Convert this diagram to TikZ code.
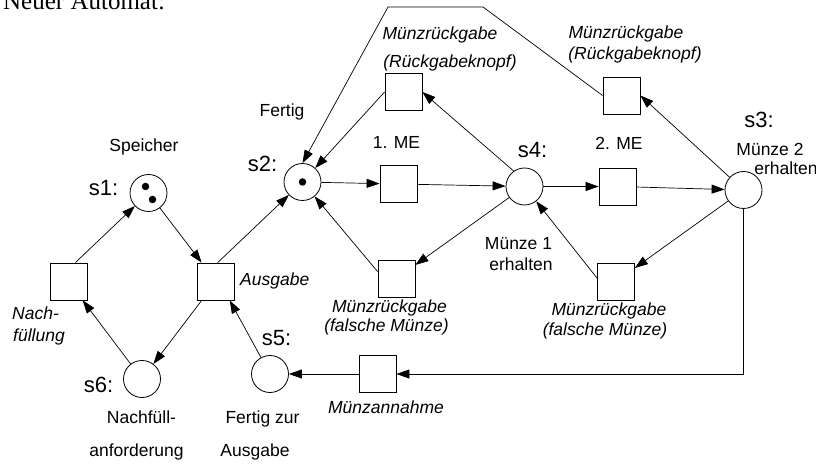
\documentclass[tikz,border=0pt]{standalone}
\usepackage{fontspec}
\setmainfont{Liberation Sans}
\newfontfamily\titlefont{Liberation Serif}
\usetikzlibrary{arrows.meta}

\begin{document}
\begin{tikzpicture}[x=1bp,y=-1bp,
  place/.style={draw,circle,minimum size=37bp,inner sep=0pt,line width=0.8bp},
  trans/.style={draw,rectangle,minimum size=37bp,inner sep=0pt,line width=0.8bp},
  arc/.style={line width=0.7bp,-{Triangle[length=13bp,width=9bp]}},
  lbl/.style={font=\fontsize{17.5bp}{21bp}\selectfont,inner sep=0pt,anchor=base},
  ilbl/.style={lbl,font=\fontsize{17.5bp}{21bp}\selectfont\itshape},
  sname/.style={lbl,font=\fontsize{22bp}{26bp}\selectfont},
  token/.style={fill,circle,inner sep=0pt,minimum size=7.5bp}]

% canvas
\fill[white] (0,0) rectangle (816,464);
\useasboundingbox (0,0) rectangle (816,464);

\node[font=\titlefont\fontsize{25bp}{30bp}\selectfont,anchor=base west,inner sep=0pt]
  (title) at (3,10) {Neuer Automat:};

% places
\node[place] (s1) at (148.5,193) {};
\node[place] (s2) at (302.5,182) {};
\node[place] (s4) at (524.5,186.5) {};
\node[place] (s3) at (743.5,190) {};
\node[place] (s5) at (270,374) {};
\node[place] (s6) at (142,379) {};

% tokens
\node[token] (k1a) at (145.5,186.5) {};
\node[token] (k1b) at (152.5,199.5) {};
\node[token] (k2) at (302.5,182) {};

% transitions
\node[trans] (tnach) at (68.5,281.5) {};
\node[trans] (taus) at (216,281.5) {};
\node[trans] (tme1) at (398.5,184) {};
\node[trans] (trk1) at (403.5,92) {};
\node[trans] (tme2) at (617.5,186.5) {};
\node[trans] (trk2) at (621.5,95.5) {};
\node[trans] (tfm1) at (396.5,278.5) {};
\node[trans] (tfm2) at (616,281.5) {};
\node[trans] (tann) at (377.5,374) {};

% bends of the return path over the top
\coordinate (topR) at (483,7);
\coordinate (topL) at (388,7);

% arcs
\draw[arc] (tnach.70) -- (s1);
\draw[arc] (s1) -- (taus);
\draw[arc] (taus.85) -- (s2);
\draw[arc] (taus) -- (s6);
\draw[arc] (s6) -- (tnach);
\draw[arc] (s5) -- (taus.-54);
\draw[arc] (tann) -- (s5);
\draw[arc] (s3) |- (tann);
\draw[arc] (s2) -- (tme1);
\draw[arc] (tme1) -- (s4);
\draw[arc] (s4) -- (tme2);
\draw[arc] (tme2) -- (s3);
\draw[arc] (s4.125) -- (trk1.east);
\draw[arc] (trk1.west) -- (s2);
\draw[arc] (s3) -- (trk2.east);
\draw[arc] (trk2.west) -- (topR) -- (topL) -- (s2.north);
\draw[arc] (s4) -- (tfm1);
\draw[arc] (tfm1.160) -- (s2);
\draw[arc] (s3) -- (tfm2);
\draw[arc] (tfm2.170) -- (s4);

% labels
\node[lbl] (lspeicher) at (144,152) {Speicher};
\node[sname] (ls1) at (103.5,196) {s1:};
\node[sname] (ls2) at (262.5,172) {s2:};
\node[lbl] (lfertig) at (282,116.5) {Fertig};
\node[lbl] (lme1) at (396.5,149) {1. ME};
\node[ilbl] (lrk1a) at (440,40) {Münzrückgabe};
\node[ilbl] (lrk1b) at (450,68) {(Rückgabeknopf)};
\node[ilbl] (lrk2a) at (626,38.5) {Münzrückgabe};
\node[ilbl] (lrk2b) at (635,60) {(Rückgabeknopf)};
\node[sname] (ls4) at (532.5,158) {s4:};
\node[lbl] (lme2) at (619,150) {2. ME};
\node[sname] (ls3) at (759,128) {s3:};
\node[lbl] (lm2a) at (770,156) {Münze 2};
\node[lbl] (lm2b) at (786,175) {erhalten};
\node[lbl] (lm1a) at (518.5,250) {Münze 1};
\node[lbl] (lm1b) at (521,271) {erhalten};
\node[ilbl] (lfm1a) at (389.5,313) {Münzrückgabe};
\node[ilbl] (lfm1b) at (386.5,332) {(falsche Münze)};
\node[ilbl] (lfm2a) at (609,316) {Münzrückgabe};
\node[ilbl] (lfm2b) at (605,336) {(falsche Münze)};
\node[ilbl,anchor=base west] (laus) at (240,286) {Ausgabe};
\node[ilbl,anchor=base west] (lnach1) at (12,320) {Nach-};
\node[ilbl,anchor=base west] (lnach2) at (13,342) {füllung};
\node[sname] (ls5) at (276.5,346) {s5:};
\node[sname] (ls6) at (98.5,392) {s6:};
\node[lbl] (lnf1) at (141.5,423) {Nachfüll-};
\node[lbl] (lnf2) at (136.5,456) {anforderung};
\node[lbl] (lfz1) at (262.5,423) {Fertig zur};
\node[lbl] (lfz2) at (255,456) {Ausgabe};
\node[ilbl] (lann) at (386,413) {Münzannahme};
\end{tikzpicture}
\end{document}
